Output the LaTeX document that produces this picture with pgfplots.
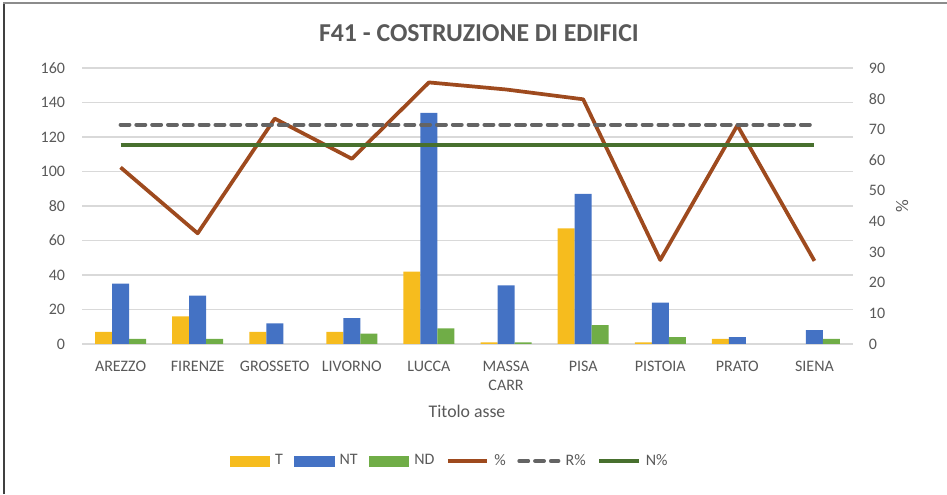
\documentclass[border=0pt]{standalone}
\usepackage{fontspec}
\setmainfont{Carlito}
\usepackage{pgfplots}
\pgfplotsset{compat=1.18}
\definecolor{txt}{HTML}{595959}
\definecolor{gridc}{HTML}{D9D9D9}
\definecolor{cT}{HTML}{F6BC1E}
\definecolor{cNT}{HTML}{4472C4}
\definecolor{cND}{HTML}{70AD47}
\definecolor{cP}{HTML}{9E4A1E}
\definecolor{cR}{HTML}{646464}
\definecolor{cN}{HTML}{48702E}
\definecolor{lb}{HTML}{404040}
\definecolor{tb}{HTML}{8C8C8C}
\pgfplotsset{
  base/.style={
    scale only axis, width=433.69pt, height=155.25pt,
    at={(46.13pt,84.38pt)}, anchor=south west,
    xmin=-0.5, xmax=9.5,
    major tick length=0pt,
    axis line style={draw=none},
    /pgf/number format/assume math mode=true,
    tick label style={font=\fontsize{9}{11}\selectfont, text=txt},
    label style={font=\fontsize{10}{12}\selectfont, text=txt},
  }
}
\begin{document}
\begin{tikzpicture}[x=1pt,y=1pt]
\path[use as bounding box] (0,0) rectangle (532.69,277.88);
\draw[color=lb, line width=1.1pt] (2.25,0) -- (2.25,276.2);
\draw[color=tb, line width=1.1pt] (1.7,276.2) -- (532.69,276.2);
\begin{axis}[base,
  ybar=0pt, bar width=9.56pt,
  ymin=0, ymax=160, ytick={0,20,...,160},
  ymajorgrids, grid style={color=gridc, line width=0.8pt},
  xtick={0,...,9},
  xticklabels={AREZZO,FIRENZE,GROSSETO,LIVORNO,LUCCA,{MASSA\\CARR},PISA,PISTOIA,PRATO,SIENA},
  xticklabel style={align=center, yshift=-6pt},
  yticklabel style={xshift=-6pt},
  xlabel={Titolo asse},
  xlabel style={at={(axis description cs:0.4994,-0.2427)}, anchor=center},
  title={F41 - COSTRUZIONE DI EDIFICI},
  title style={at={(axis description cs:0.5148,1.087)}, anchor=center, font=\fontsize{14.5}{17}\selectfont\bfseries, text=txt},
]
\addplot[fill=cT, draw=none] coordinates {(0,7) (1,16) (2,7) (3,7) (4,42) (5,1) (6,67) (7,1) (8,3)};
\addplot[fill=cNT, draw=none] coordinates {(0,35) (1,28) (2,12) (3,15) (4,134) (5,34) (6,87) (7,24) (8,4) (9,8)};
\addplot[fill=cND, draw=none] coordinates {(0,3) (1,3) (3,6) (4,9) (5,1) (6,11) (7,4) (9,3)};
\end{axis}
\begin{axis}[base,
  axis y line*=right, axis x line=none,
  ymin=0, ymax=90, ytick={0,10,...,90},
  yticklabel style={xshift=5.4pt},
  ylabel={\%},
  ylabel style={at={(axis description cs:1.0636,0.5)}, anchor=center},
  legend columns=6,
  legend style={at={(axis description cs:0.478,-0.424)}, anchor=center, draw=none, fill=none,
    font=\fontsize{9}{11}\selectfont, text=txt,
    /tikz/every odd column/.append style={column sep=1pt},
    /tikz/every even column/.append style={column sep=4.5pt}},
  legend image code/.code={\draw[#1] (0pt,0pt) -- (22pt,0pt);},
]
\addlegendimage{legend image code/.code={\fill[cT] (0pt,-2.8pt) rectangle (22pt,2.8pt);}}
\addlegendentry{T}
\addlegendimage{legend image code/.code={\fill[cNT] (0pt,-2.8pt) rectangle (22pt,2.8pt);}}
\addlegendentry{NT}
\addlegendimage{legend image code/.code={\fill[cND] (0pt,-2.8pt) rectangle (22pt,2.8pt);}}
\addlegendentry{ND}
\addplot[color=cP, line width=2.1pt, line join=round] coordinates {(0,57.6) (1,36.1) (2,73.5) (3,60.4) (4,85.3) (5,83.0) (6,79.8) (7,27.4) (8,71.3) (9,27.1)};
\addlegendentry{\%}
\addplot[color=cR, line width=2.25pt, line cap=round, dash pattern=on 5pt off 3.9pt] coordinates {(0,71.5) (1,71.5) (2,71.5) (3,71.5) (4,71.5) (5,71.5) (6,71.5) (7,71.5) (8,71.5) (9,71.5)};
\addlegendentry{R\%}
\addplot[color=cN, line width=2.25pt] coordinates {(0,64.8) (1,64.8) (2,64.8) (3,64.8) (4,64.8) (5,64.8) (6,64.8) (7,64.8) (8,64.8) (9,64.8)};
\addlegendentry{N\%}
\end{axis}
\end{tikzpicture}
\end{document}
